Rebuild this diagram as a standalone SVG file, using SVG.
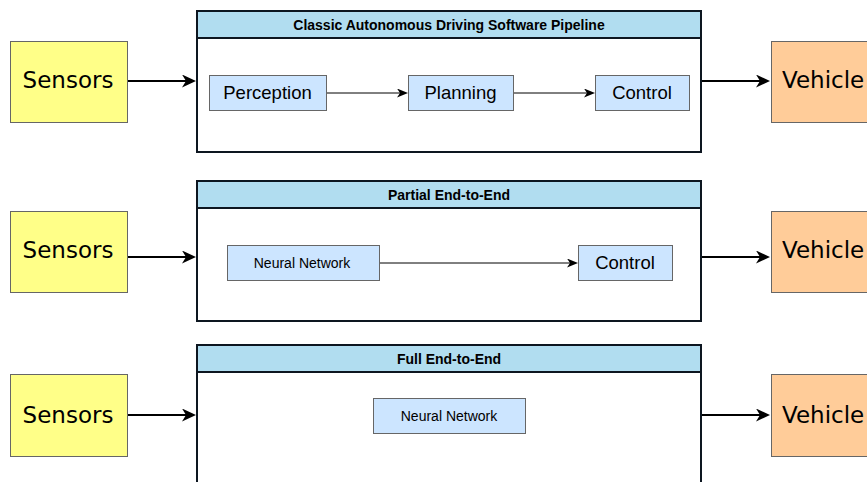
<svg xmlns="http://www.w3.org/2000/svg" width="867" height="482" viewBox="0 0 867 482">
  <style>
    .sensor { fill: #ffff88; stroke: #666666; stroke-width: 1; }
    .vehicle { fill: #ffcc99; stroke: #666666; stroke-width: 1; }
    .frame { fill: #ffffff; stroke: #0d1620; stroke-width: 2; }
    .head { fill: #b1ddf0; stroke: #0d1620; stroke-width: 2; }
    .step { fill: #cce5ff; stroke: #666666; stroke-width: 1; }
    .big { font-family: "DejaVu Sans", sans-serif; font-size: 23px; fill: #000; }
    .title { font-family: "Liberation Sans", Arial, sans-serif; font-size: 14px; font-weight: bold; fill: #000; text-anchor: middle; }
    .lbl { font-family: "Liberation Sans", Arial, sans-serif; font-size: 18.5px; fill: #000; text-anchor: middle; }
    .small { font-family: "Liberation Sans", Arial, sans-serif; font-size: 14px; fill: #000; text-anchor: middle; }
    .thick { stroke: #000; stroke-width: 2; fill: none; marker-end: url(#bigArrow); }
    .thin { stroke: #000; stroke-width: 1; fill: none; marker-end: url(#smallArrow); }
  </style>
  <defs>
    <marker id="bigArrow" markerUnits="userSpaceOnUse" markerWidth="14" markerHeight="13" refX="4" refY="6.5" orient="auto">
      <path d="M0,0 L14,6.5 L0,13 L4,6.5 Z" fill="#000"/>
    </marker>
    <marker id="smallArrow" markerUnits="userSpaceOnUse" markerWidth="11" markerHeight="9" refX="3" refY="4.5" orient="auto">
      <path d="M0,0 L11,4.5 L0,9 L3,4.5 Z" fill="#000"/>
    </marker>
  </defs>

  <rect width="867" height="482" fill="#ffffff"/>

  <!-- Row 1: classic pipeline -->
  <g id="sensors1">
    <rect class="sensor" x="10.5" y="41.5" width="117" height="81"/>
    <text class="big" x="68" y="88" text-anchor="middle">Sensors</text>
  </g>
  <g id="classic">
    <rect class="frame" x="197" y="11" width="504" height="141"/>
    <rect class="head" x="197" y="11" width="504" height="27"/>
    <text class="title" x="449" y="29.5">Classic Autonomous Driving Software Pipeline</text>
  </g>
  <g id="perception">
    <rect class="step" x="209.5" y="75.5" width="117" height="35"/>
    <text class="lbl" x="267.5" y="99">Perception</text>
  </g>
  <g id="planning">
    <rect class="step" x="408.5" y="75.5" width="105" height="35"/>
    <text class="lbl" x="460.5" y="99">Planning</text>
  </g>
  <g id="control1">
    <rect class="step" x="595.5" y="75.5" width="94" height="35"/>
    <text class="lbl" x="642" y="99">Control</text>
  </g>
  <g id="vehicle1">
    <rect class="vehicle" x="771.5" y="41.5" width="117" height="81"/>
    <text class="big" x="782" y="88">Vehicle</text>
  </g>

  <!-- Row 2: partial end-to-end -->
  <g id="sensors2">
    <rect class="sensor" x="10.5" y="211.5" width="117" height="81"/>
    <text class="big" x="68" y="258" text-anchor="middle">Sensors</text>
  </g>
  <g id="partial">
    <rect class="frame" x="197" y="181" width="504" height="140"/>
    <rect class="head" x="197" y="181" width="504" height="27"/>
    <text class="title" x="449" y="199.5">Partial End-to-End</text>
  </g>
  <g id="nn2">
    <rect class="step" x="227.5" y="245.5" width="152" height="35"/>
    <text class="small" x="302" y="268">Neural Network</text>
  </g>
  <g id="control2">
    <rect class="step" x="578.5" y="245.5" width="94" height="35"/>
    <text class="lbl" x="625" y="269">Control</text>
  </g>
  <g id="vehicle2">
    <rect class="vehicle" x="771.5" y="211.5" width="117" height="81"/>
    <text class="big" x="782" y="258">Vehicle</text>
  </g>

  <!-- Row 3: full end-to-end -->
  <g id="sensors3">
    <rect class="sensor" x="10.5" y="374.5" width="117" height="82"/>
    <text class="big" x="68" y="423" text-anchor="middle">Sensors</text>
  </g>
  <g id="full">
    <rect class="frame" x="197" y="345" width="504" height="150"/>
    <rect class="head" x="197" y="345" width="504" height="27"/>
    <text class="title" x="449" y="363.5">Full End-to-End</text>
  </g>
  <g id="nn3">
    <rect class="step" x="373.5" y="398.5" width="152" height="35"/>
    <text class="small" x="449" y="421">Neural Network</text>
  </g>
  <g id="vehicle3">
    <rect class="vehicle" x="771.5" y="374.5" width="117" height="82"/>
    <text class="big" x="782" y="423">Vehicle</text>
  </g>

  <!-- Connectors -->
  <g id="connectors">
    <line class="thick" x1="128" y1="81" x2="186" y2="81"/>
    <line class="thick" x1="702" y1="81" x2="760" y2="81"/>
    <line class="thin" x1="327" y1="93" x2="400" y2="93"/>
    <line class="thin" x1="514" y1="93" x2="587" y2="93"/>

    <line class="thick" x1="128" y1="257" x2="186" y2="257"/>
    <line class="thick" x1="702" y1="257" x2="760" y2="257"/>
    <line class="thin" x1="380" y1="263" x2="570" y2="263"/>

    <line class="thick" x1="128" y1="415" x2="186" y2="415"/>
    <line class="thick" x1="702" y1="415" x2="760" y2="415"/>
  </g>
</svg>
